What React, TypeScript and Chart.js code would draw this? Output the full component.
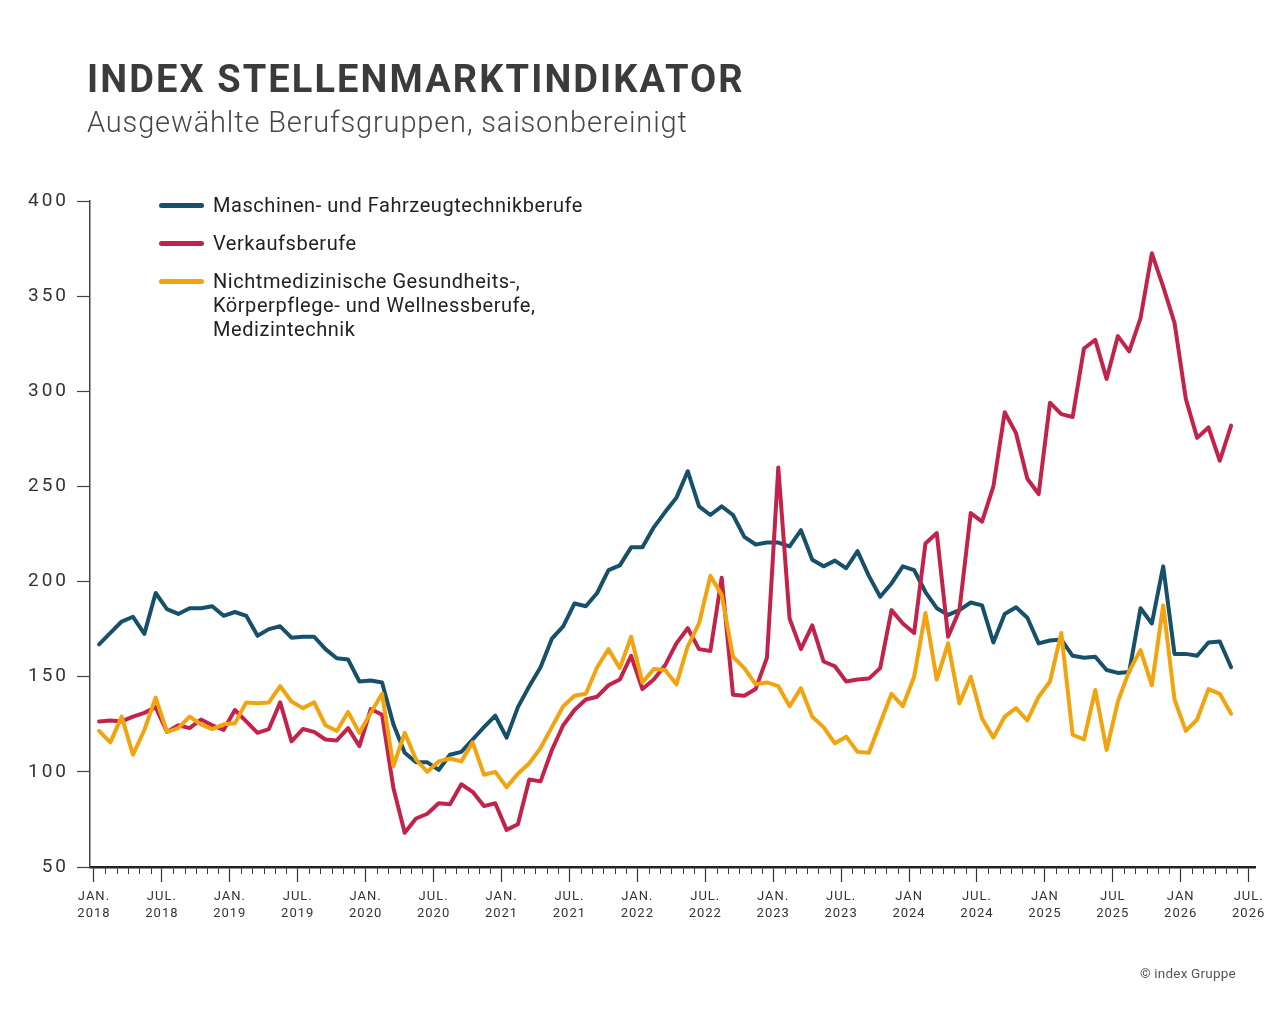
import { useEffect, useRef } from 'react';
import { Chart, registerables } from 'chart.js';

Chart.register(...registerables);

// Monthly index values, Jan 2018 – May 2026
const maschinen = [
  167, 173, 179, 181.5, 172.5, 194, 185.5, 183, 186, 186, 187, 182,
  184, 182, 171.5, 175, 176.5, 170.5, 171, 171, 164.5, 159.7, 159, 147.5,
  148, 147, 125, 110, 105, 105, 101, 109, 110.5, 117, 123.5, 129.5,
  118, 134, 145, 155, 170, 176.5, 188.5, 187, 194, 206, 208.5, 218,
  218, 228.5, 236.5, 244, 258, 239.5, 235, 239.5, 235, 223.5, 219.5, 220.5,
  220.5, 218.5, 227, 211.5, 208, 211, 207, 216, 203, 192, 199, 208,
  206, 194.5, 186, 182.5, 185, 189, 187.5, 168, 183, 186.5, 181, 167.5,
  169, 169.5, 161, 160, 160.5, 153.5, 152, 152.5, 186, 178, 208, 162,
  162, 161, 168, 168.5, 155,
];

const verkauf = [
  126.5, 127, 126.5, 129, 131, 134, 121, 124.5, 123, 127.5, 124.5, 122,
  132.5, 126.5, 120.5, 122.5, 136.5, 116, 122.5, 121, 117, 116.5, 123, 113.5,
  133, 130, 91.5, 68, 75.5, 78, 83.5, 83, 93.5, 89.5, 82, 83.5,
  69.5, 72.5, 96, 95, 111.5, 124.5, 132.5, 138, 139.5, 145.5, 148.5, 161,
  143.5, 148.5, 156, 167.5, 175.5, 164.5, 163.5, 202, 140.5, 140, 143.5, 160,
  260, 180.5, 164.5, 177, 158, 155.5, 147.5, 148.5, 149, 154.5, 185, 178,
  173, 220, 225.5, 171, 185, 236, 231.5, 250, 289, 278, 254, 246,
  294, 288, 286.5, 322.5, 327, 306.5, 329, 321, 338.5, 372.5, 355, 336,
  296, 275.5, 281, 263.5, 282,
];

const gesundheit = [
  121.5, 115.5, 129, 109, 122, 139, 121, 123, 129, 125, 122.5, 125,
  125.5, 136.5, 136, 136.5, 145, 137, 133.5, 136.5, 124.5, 121.5, 131.5, 120.5,
  131, 141, 103, 120.5, 106.5, 100, 105.5, 107, 105.5, 115.5, 98.5, 100,
  92, 99, 104.5, 112.5, 123.5, 134.5, 140, 141, 155, 164.5, 154.5, 171,
  147, 154, 153.5, 146, 166, 178, 203, 193, 160.5, 154.5, 146, 147,
  145, 134.5, 144, 129, 123.5, 115, 118.5, 110.5, 110, 125.5, 141, 134.5,
  150, 183.5, 148.5, 167.5, 136, 150, 128, 118, 129, 133.5, 127, 139.5,
  147.5, 173, 119.5, 117, 143, 111.5, 137, 153, 164, 145.5, 187.5, 138,
  121.5, 127.5, 143.5, 141, 130.5,
];

// Half-year tick labels from Jan 2018 to Jul 2026
const tickLabels: string[][] = [
  ['JAN.', '2018'], ['JUL.', '2018'], ['JAN.', '2019'], ['JUL.', '2019'],
  ['JAN.', '2020'], ['JUL.', '2020'], ['JAN.', '2021'], ['JUL.', '2021'],
  ['JAN.', '2022'], ['JUL.', '2022'], ['JAN.', '2023'], ['JUL.', '2023'],
  ['JAN', '2024'], ['JUL.', '2024'], ['JAN', '2025'], ['JUL', '2025'],
  ['JAN', '2026'], ['JUL.', '2026'],
];

const yTicks = [50, 100, 150, 200, 250, 300, 350, 400];

const seriesNames = [
  'Maschinen- und Fahrzeugtechnikberufe',
  'Verkaufsberufe',
  'Nichtmedizinische Gesundheits-,\nKörperpflege- und Wellnessberufe,\nMedizintechnik',
];

const BLUE = '#16506b';
const RED = '#c3234b';
const YELLOW = '#f2a30d';
const FONT = 'Roboto, "Noto Sans", Arial, sans-serif';

const MONTHS_ON_AXIS = (tickLabels.length - 1) * 6;
const MID = 0.45; // values sit in the middle of their month

function withLetterSpacing(scale: any, spacing: string) {
  if (scale.__spaced) return;
  scale.__spaced = true;
  const base = scale.drawLabels;
  scale.drawLabels = function (area: any) {
    const ctx = this.ctx;
    ctx.save();
    ctx.letterSpacing = spacing;
    base.call(this, area);
    ctx.restore();
  };
}

const minorTicks = {
  id: 'minorTicks',
  afterDraw(chart: any) {
    const xs = chart.scales.x;
    const ctx = chart.ctx;
    ctx.save();
    ctx.strokeStyle = '#3a3a3a';
    ctx.lineWidth = 1;
    for (let m = 0; m <= MONTHS_ON_AXIS; m++) {
      if (m % 6 === 0) continue;
      const px = Math.round(xs.getPixelForValue(m)) + 0.5;
      ctx.beginPath();
      ctx.moveTo(px, xs.top);
      ctx.lineTo(px, xs.top + 7);
      ctx.stroke();
    }
    ctx.restore();
  },
};

function LegendItem({ color, text, top }: { color: string; text: string; top: number }) {
  const lines = text.split('\n');
  return (
    <div style={{ position: 'absolute', left: 0, top, width: 700 }}>
      <div
        style={{
          position: 'absolute',
          left: 159,
          top: 10,
          width: 45,
          height: 4.5,
          borderRadius: 2.5,
          background: color,
        }}
      />
      <div
        style={{
          position: 'absolute',
          left: 213,
          top: 0,
          fontFamily: FONT,
          fontSize: 20,
          lineHeight: '24px',
          color: '#222',
          letterSpacing: '0.55px',
          whiteSpace: 'nowrap',
        }}
      >
        {lines.map((l, i) => (
          <div key={i}>{l}</div>
        ))}
      </div>
    </div>
  );
}

export default function App() {
  const canvasRef = useRef<HTMLCanvasElement>(null);

  useEffect(() => {
    const canvas = canvasRef.current;
    if (!canvas) return;
    const toPoints = (arr: number[]) => arr.map((v, i) => ({ x: i + MID, y: v }));

    const chart = new Chart(canvas, {
      type: 'line',
      data: {
        datasets: [
          { label: seriesNames[0], data: toPoints(maschinen), borderColor: BLUE, order: 2 },
          { label: seriesNames[1], data: toPoints(verkauf), borderColor: RED, order: 1 },
          { label: seriesNames[2], data: toPoints(gesundheit), borderColor: YELLOW, order: 0 },
        ],
      },
      options: {
        animation: false,
        responsive: false,
        layout: { padding: { left: 0, right: 25, top: 201, bottom: 80 } },
        plugins: { legend: { display: false }, tooltip: { enabled: false } },
        elements: {
          point: { radius: 0 },
          line: { borderWidth: 4, tension: 0, borderJoinStyle: 'round', borderCapStyle: 'round' },
        },
        scales: {
          x: {
            type: 'linear',
            min: -0.35,
            max: 102.56,
            afterBuildTicks: (s: any) => {
              s.ticks = tickLabels.map((_, k) => ({ value: k * 6 }));
            },
            afterFit: (s: any) => {
              s.height = 66;
              withLetterSpacing(s, '1px');
            },
            ticks: {
              autoSkip: false,
              maxRotation: 0,
              padding: 7,
              color: '#333',
              font: { family: FONT, size: 13, lineHeight: 1.25 },
              callback: (_v: any, idx: number) => tickLabels[idx],
            },
            grid: { drawOnChartArea: false, tickLength: 15, color: '#333', tickWidth: 1.2 },
            border: { color: '#222', width: 2.5 },
          },
          y: {
            min: 50,
            max: 400,
            afterBuildTicks: (s: any) => {
              s.ticks = yTicks.map((v) => ({ value: v }));
            },
            afterFit: (s: any) => {
              s.width = 90;
              withLetterSpacing(s, '3px');
            },
            ticks: {
              padding: 8,
              color: '#333',
              font: { family: FONT, size: 19 },
            },
            grid: { drawOnChartArea: false, tickLength: 13, color: '#444', tickWidth: 1.2 },
            border: { color: '#444', width: 1.5 },
          },
        },
      },
      plugins: [minorTicks],
    } as any);

    return () => chart.destroy();
  }, []);

  return (
    <div
      style={{
        position: 'absolute',
        left: 0,
        top: 0,
        width: 1280,
        height: 1013,
        background: '#fff',
        overflow: 'hidden',
      }}
    >
      <canvas ref={canvasRef} width={1280} height={1013} style={{ position: 'absolute', left: 0, top: 0 }} />
      <div
        style={{
          position: 'absolute',
          left: 87,
          top: 60,
          fontFamily: FONT,
          fontWeight: 700,
          fontSize: 38,
          lineHeight: 1,
          letterSpacing: '2.1px',
          color: '#3b3b3b',
          whiteSpace: 'nowrap',
        }}
      >
        INDEX STELLENMARKTINDIKATOR
      </div>
      <div
        style={{
          position: 'absolute',
          left: 87,
          top: 108,
          fontFamily: FONT,
          fontWeight: 300,
          fontSize: 29,
          lineHeight: 1,
          letterSpacing: '0.85px',
          color: '#474747',
          whiteSpace: 'nowrap',
        }}
      >
        Ausgewählte Berufsgruppen, saisonbereinigt
      </div>
      <LegendItem color={BLUE} text={seriesNames[0]} top={193} />
      <LegendItem color={RED} text={seriesNames[1]} top={231} />
      <LegendItem color={YELLOW} text={seriesNames[2]} top={269} />
      <div
        style={{
          position: 'absolute',
          left: 1140,
          top: 965,
          fontFamily: FONT,
          fontSize: 13.5,
          lineHeight: '16px',
          letterSpacing: '0.2px',
          color: '#555',
          whiteSpace: 'nowrap',
        }}
      >
        © index Gruppe
      </div>
    </div>
  );
}
